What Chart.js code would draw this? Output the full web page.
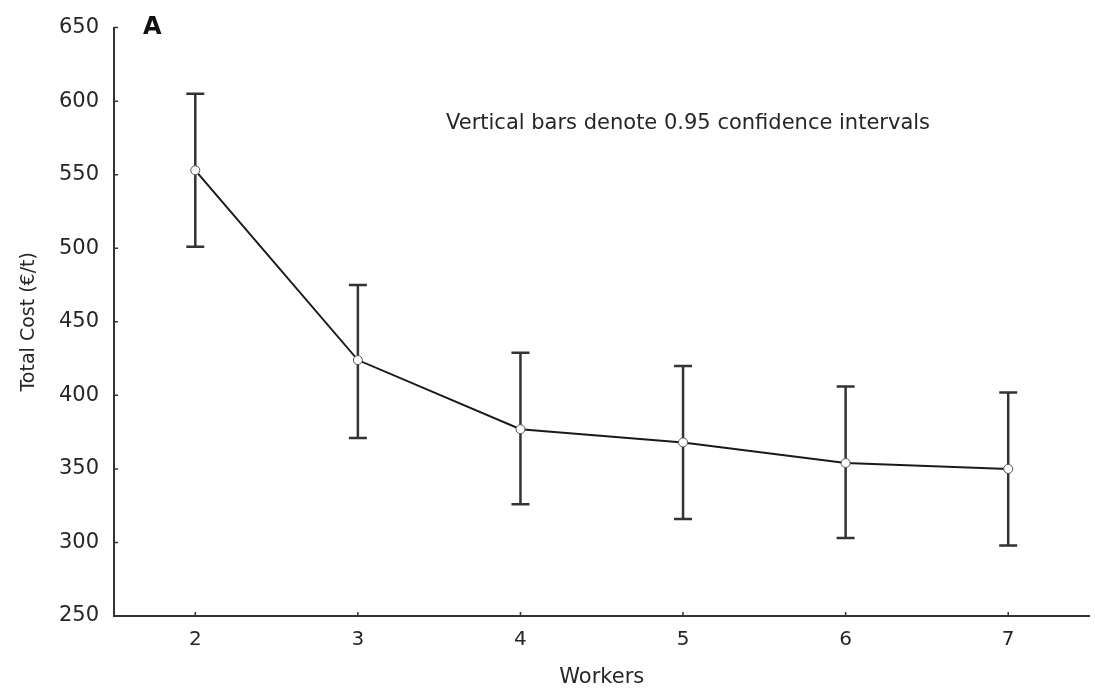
<!DOCTYPE html>
<html>
<head>
<meta charset="utf-8">
<script src="https://cdn.jsdelivr.net/npm/chart.js@4.4.1/dist/chart.umd.min.js"></script>
<style>
  html, body { margin: 0; padding: 0; background: #fff; }
  #wrap { width: 1095px; height: 690px; }
</style>
</head>
<body>
<div id="wrap"><canvas id="costChart"></canvas></div>
<script>
// data
const workers = [2, 3, 4, 5, 6, 7];
const meanCost = [553, 424, 377, 368, 354, 350];
const ciLower = [501, 371, 326, 316, 303, 298];
const ciUpper = [605, 475, 429, 420, 406, 402];
const yTicks = [250, 300, 350, 400, 450, 500, 550, 600, 650];

const ink = '#262626';
const fontFam = '"DejaVu Sans", sans-serif';

// whiskers for the 0.95 CI, drawn under the line and markers
const errorBars = {
    id: 'errorBars',
    beforeDatasetsDraw(chart) {
        const { ctx, scales: { x, y } } = chart;
        ctx.save();
        ctx.strokeStyle = '#333';
        ctx.lineWidth = 2.5;
        workers.forEach((w, i) => {
            const px = x.getPixelForValue(w);
            const lo = y.getPixelForValue(ciLower[i]);
            const hi = y.getPixelForValue(ciUpper[i]);
            ctx.beginPath();
            ctx.moveTo(px, lo); ctx.lineTo(px, hi);
            ctx.moveTo(px - 9, lo); ctx.lineTo(px + 9, lo);
            ctx.moveTo(px - 9, hi); ctx.lineTo(px + 9, hi);
            ctx.stroke();
        });
        ctx.restore();
    }
};

// inward tick marks, panel letter and the note
const extras = {
    id: 'extras',
    afterDraw(chart) {
        const { ctx, scales: { x, y }, chartArea: a } = chart;
        ctx.save();
        ctx.strokeStyle = '#333';
        ctx.lineWidth = 1.5;
        ctx.beginPath();
        yTicks.forEach(v => {
            const py = y.getPixelForValue(v);
            ctx.moveTo(a.left, py); ctx.lineTo(a.left + 4, py);
        });
        workers.forEach(w => {
            const px = x.getPixelForValue(w);
            ctx.moveTo(px, a.bottom); ctx.lineTo(px, a.bottom - 4);
        });
        ctx.stroke();

        ctx.fillStyle = '#111';
        ctx.textBaseline = 'alphabetic';
        ctx.font = 'bold 24px ' + fontFam;
        ctx.fillText('A', 143, 34);
        ctx.fillStyle = ink;
        ctx.font = '21px ' + fontFam;
        ctx.fillText('Vertical bars denote 0.95 confidence intervals', 446, 129);
        ctx.restore();
    }
};

new Chart(document.getElementById('costChart'), {
    type: 'line',
    data: {
        datasets: [{
            label: 'Total Cost',
            data: workers.map((w, i) => ({ x: w, y: meanCost[i] })),
            borderColor: '#1a1a1a',
            borderWidth: 2,
            pointRadius: 4.5,
            pointBackgroundColor: '#fff',
            pointBorderColor: '#555',
            pointBorderWidth: 1,
            tension: 0
        }]
    },
    options: {
        responsive: true,
        maintainAspectRatio: false,
        animation: false,
        layout: { padding: { top: 19, right: 5, left: 0, bottom: 0 } },
        plugins: {
            legend: { display: false },
            tooltip: { enabled: false }
        },
        scales: {
            x: {
                type: 'linear',
                min: 1.5,
                max: 7.5,
                afterBuildTicks: s => { s.ticks = workers.map(v => ({ value: v })); },
                afterFit: s => { s.height = 74; },
                grid: { display: false, drawTicks: false },
                border: { display: true, color: '#333', width: 2 },
                ticks: { color: ink, font: { family: fontFam, size: 20 }, padding: 12 },
                title: {
                    display: true, text: 'Workers', color: ink,
                    font: { family: fontFam, size: 21 },
                    padding: { top: 0, bottom: 0 }
                }
            },
            y: {
                min: 250,
                max: 650,
                afterBuildTicks: s => { s.ticks = yTicks.map(v => ({ value: v })); },
                afterFit: s => { s.width = 114; },
                grid: { display: false, drawTicks: false },
                border: { display: true, color: '#333', width: 2 },
                ticks: { color: ink, font: { family: fontFam, size: 21 }, padding: 15 },
                title: {
                    display: true, text: 'Total Cost (€/t)', color: ink,
                    font: { family: fontFam, size: 19 },
                    padding: { top: 18, bottom: 0 }
                }
            }
        }
    },
    plugins: [errorBars, extras]
});
</script>
</body>
</html>
